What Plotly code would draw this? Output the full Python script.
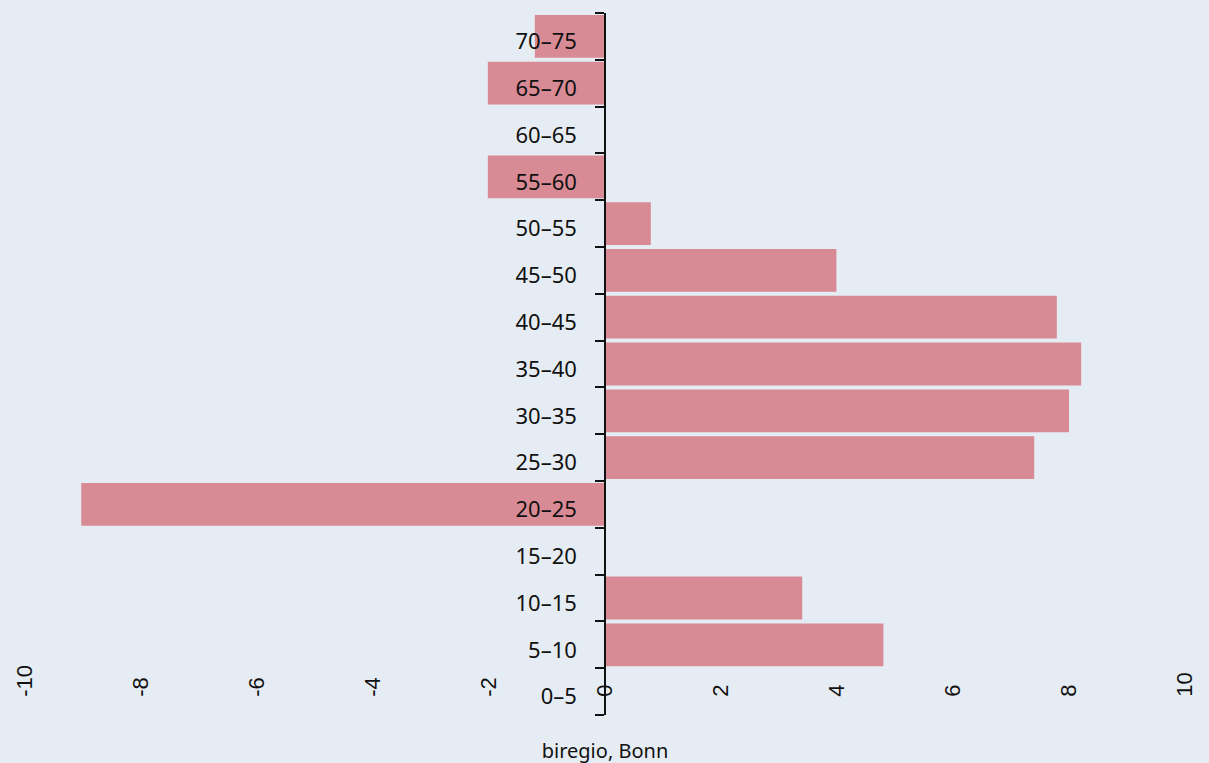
import plotly.graph_objects as go

categories = ["0–5", "5–10", "10–15", "15–20", "20–25", "25–30", "30–35", "35–40",
              "40–45", "45–50", "50–55", "55–60", "60–65", "65–70", "70–75"]
values = [0, 4.80, 3.40, 0, -9.03, 7.40, 8.00, 8.21, 7.79, 3.99, 0.79, -2.02, 0, -2.02, -1.21]
x_ticks = [-10, -8, -6, -4, -2, 0, 2, 4, 6, 8, 10]
x_tick_labels = ["-10", "-8", "-6", "-4", "-2", "0", "2", "4", "6", "8", "10"]
credit = "biregio, Bonn"

fig = go.Figure(go.Bar(
    y=categories, x=values, orientation="h",
    marker=dict(color="#d88a95", line=dict(width=0)),
    hoverinfo="skip",
))

fig.update_layout(
    width=1209, height=763,
    margin=dict(l=19, r=20, t=13, b=48),
    paper_bgcolor="#e6ecf3", plot_bgcolor="#e6ecf3",
    bargap=0.085,
    showlegend=False,
    title=dict(text=credit, x=0.5, xanchor="center", xref="paper",
               y=0.006, yanchor="bottom", yref="container",
               font=dict(family="Noto Sans", size=20, color="#111")),
)

fig.update_xaxes(
    range=[-10, 10], tickvals=x_ticks, ticktext=x_tick_labels, tickangle=-90,
    side="top", anchor="free", position=0.026,
    showgrid=False, zeroline=False, showline=False, ticks="",
    tickfont=dict(family="Liberation Sans", size=22, color="#111"),
)

fig.update_yaxes(
    type="category", categoryorder="array", categoryarray=categories,
    anchor="free", position=0.5,
    showline=True, linecolor="#111", linewidth=1.5,
    ticks="outside", tickson="boundaries", ticklen=9, tickwidth=1.5, tickcolor="#111",
    ticklabelstandoff=23, ticklabelshift=5,
    showgrid=False, zeroline=False,
    tickfont=dict(family="Noto Sans", size=22, color="#111"),
)

fig.write_html("out.html", config={"displayModeBar": False},
               post_script="document.body.style.margin='0';document.body.style.overflow='hidden';")
